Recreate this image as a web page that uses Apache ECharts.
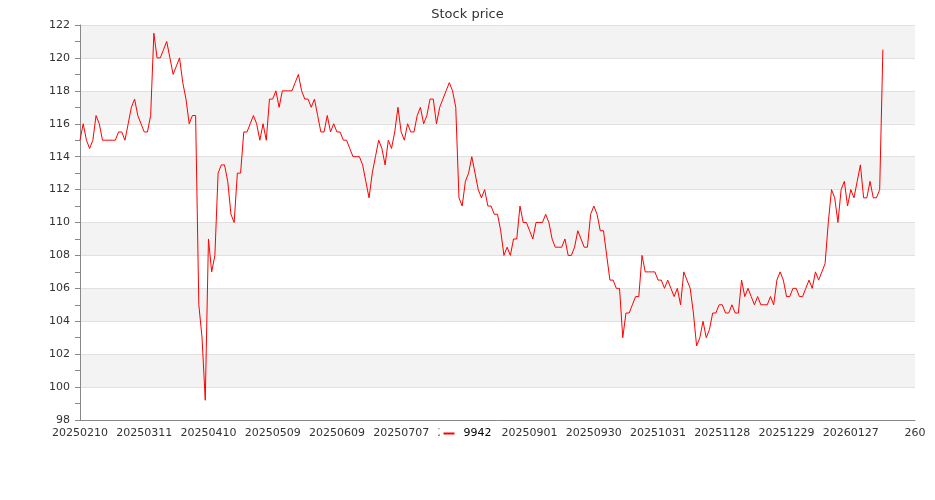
<!DOCTYPE html>
<html>
<head>
<meta charset="utf-8">
<script src="https://cdn.jsdelivr.net/npm/echarts@6/dist/echarts.min.js"></script>
<style>
html,body{margin:0;padding:0;background:#fff;}
#chart{width:935px;height:500px;}
</style>
</head>
<body>
<div id="chart"></div>
<script>
const titleText = "Stock price";
const seriesName = "9942";

const tradeDates = [
"20250210","20250211","20250212","20250213","20250214","20250217","20250218","20250219","20250220","20250221",
"20250224","20250225","20250226","20250227","20250303","20250304","20250305","20250306","20250307","20250310",
"20250311","20250312","20250313","20250314","20250317","20250318","20250319","20250320","20250321","20250324",
"20250325","20250326","20250327","20250328","20250331","20250401","20250402","20250407","20250408","20250409",
"20250410","20250411","20250414","20250415","20250416","20250417","20250418","20250421","20250422","20250423",
"20250424","20250425","20250428","20250429","20250430","20250502","20250505","20250506","20250507","20250508",
"20250509","20250512","20250513","20250514","20250515","20250516","20250519","20250520","20250521","20250522",
"20250523","20250526","20250527","20250528","20250529","20250602","20250603","20250604","20250605","20250606",
"20250609","20250610","20250611","20250612","20250613","20250616","20250617","20250618","20250619","20250620",
"20250623","20250624","20250625","20250626","20250627","20250630","20250701","20250702","20250703","20250704",
"20250707","20250708","20250709","20250710","20250711","20250714","20250715","20250716","20250717","20250718",
"20250721","20250722","20250723","20250724","20250725","20250728","20250729","20250730","20250731","20250801",
"20250804","20250805","20250806","20250807","20250808","20250811","20250812","20250813","20250814","20250815",
"20250818","20250819","20250820","20250821","20250822","20250825","20250826","20250827","20250828","20250829",
"20250901","20250902","20250903","20250904","20250905","20250908","20250909","20250910","20250911","20250912",
"20250915","20250916","20250917","20250918","20250919","20250922","20250923","20250924","20250925","20250926",
"20250930","20251001","20251002","20251003","20251007","20251008","20251009","20251013","20251014","20251015",
"20251016","20251017","20251020","20251021","20251022","20251023","20251027","20251028","20251029","20251030",
"20251031","20251103","20251104","20251105","20251106","20251107","20251110","20251111","20251112","20251113",
"20251114","20251117","20251118","20251119","20251120","20251121","20251124","20251125","20251126","20251127",
"20251128","20251201","20251202","20251203","20251204","20251205","20251208","20251209","20251210","20251211",
"20251212","20251215","20251216","20251217","20251218","20251219","20251222","20251223","20251224","20251226",
"20251229","20251230","20251231","20260102","20260105","20260106","20260107","20260108","20260109","20260112",
"20260113","20260114","20260115","20260116","20260119","20260120","20260121","20260122","20260123","20260126",
"20260127","20260128","20260129","20260130","20260202","20260203","20260204","20260205","20260206","20260209",
"20260210"
];

// extra empty slots on the category axis after the last trading day
const paddingCategories = ["251","252","253","254","255","256","257","258","259","260"];

const prices = [
115,116,115,114.5,115,116.5,116,115,115,115,
115,115,115.5,115.5,115,116,117,117.5,116.5,116,
115.5,115.5,116.5,121.5,120,120,120.5,121,120,119,
119.5,120,118.5,117.5,116,116.5,116.5,105,103,99.2,
109,107,108,113,113.5,113.5,112.5,110.5,110,113,
113,115.5,115.5,116,116.5,116,115,116,115,117.5,
117.5,118,117,118,118,118,118,118.5,119,118,
117.5,117.5,117,117.5,116.5,115.5,115.5,116.5,115.5,116,
115.5,115.5,115,115,114.5,114,114,114,113.5,112.5,
111.5,113,114,115,114.5,113.5,115,114.5,115.5,117,
115.5,115,116,115.5,115.5,116.5,117,116,116.5,117.5,
117.5,116,117,117.5,118,118.5,118,117,111.5,111,
112.5,113,114,113,112,111.5,112,111,111,110.5,
110.5,109.5,108,108.5,108,109,109,111,110,110,
109.5,109,110,110,110,110.5,110,109,108.5,108.5,
108.5,109,108,108,108.5,109.5,109,108.5,108.5,110.5,
111,110.5,109.5,109.5,108,106.5,106.5,106,106,103,
104.5,104.5,105,105.5,105.5,108,107,107,107,107,
106.5,106.5,106,106.5,106,105.5,106,105,107,106.5,
106,104.5,102.5,103,104,103,103.5,104.5,104.5,105,
105,104.5,104.5,105,104.5,104.5,106.5,105.5,106,105.5,
105,105.5,105,105,105,105.5,105,106.5,107,106.5,
105.5,105.5,106,106,105.5,105.5,106,106.5,106,107,
106.5,107,107.5,110,112,111.5,110,112,112.5,111,
112,111.5,112.5,113.5,111.5,111.5,112.5,111.5,111.5,112,
120.5
];

const yMin = 98, yMax = 122, yStep = 2;

const categories = tradeDates.concat(paddingCategories);

const chart = echarts.init(document.getElementById('chart'), null, {renderer: 'canvas'});
chart.setOption({
  animation: false,
  backgroundColor: '#ffffff',
  textStyle: {fontFamily: 'DejaVu Sans'},
  title: {
    text: titleText,
    left: 'center',
    top: 3,
    textStyle: {fontSize: 13, fontWeight: 'normal', color: '#333', fontFamily: 'DejaVu Sans'}
  },
  legend: {
    data: [seriesName],
    left: 'center',
    top: 426,
    icon: 'rect',
    itemWidth: 11,
    itemHeight: 2,
    itemGap: 10,
    backgroundColor: '#ffffff',
    padding: [2, 4, 2, 4],
    textStyle: {fontSize: 11, color: '#000', fontFamily: 'DejaVu Sans', padding: [0, 0, 0, 4]}
  },
  grid: {left: 80, right: 20, top: 25, bottom: 80, containLabel: false},
  xAxis: {
    type: 'category',
    data: categories,
    boundaryGap: false,
    axisLine: {show: true, lineStyle: {color: '#888'}},
    axisTick: {show: false},
    axisLabel: {interval: 19, color: '#333', fontSize: 11, margin: 8, fontFamily: 'DejaVu Sans'},
    splitLine: {show: false}
  },
  yAxis: {
    type: 'value',
    min: yMin,
    max: yMax,
    interval: yStep,
    axisLine: {show: true, lineStyle: {color: '#888'}},
    axisTick: {show: true, length: 5, lineStyle: {color: '#888'}},
    minorTick: {show: true, splitNumber: 2, length: 5, lineStyle: {color: '#888'}},
    axisLabel: {color: '#333', fontSize: 11, margin: 10, fontFamily: 'DejaVu Sans'},
    splitLine: {show: true, lineStyle: {color: '#e0e0e0', width: 1}},
    splitArea: {show: true, areaStyle: {color: ['#ffffff', '#f3f3f3']}}
  },
  series: [{
    name: seriesName,
    type: 'line',
    data: prices,
    symbol: 'none',
    showSymbol: false,
    lineStyle: {color: '#ff0000', width: 1},
    itemStyle: {color: '#ff0000'}
  }]
});
</script>
</body>
</html>
